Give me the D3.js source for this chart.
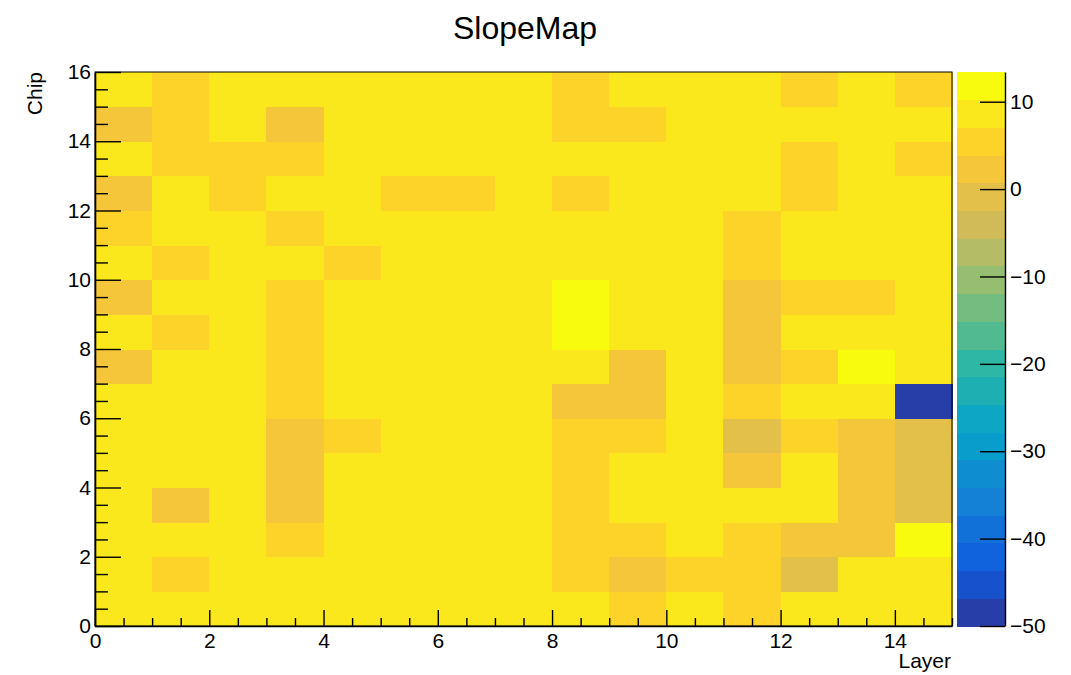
<!DOCTYPE html>
<html>
<head>
<meta charset="utf-8">
<script src="https://cdn.jsdelivr.net/npm/d3@7"></script>
<style>
  html, body { margin: 0; padding: 0; background: #fff; }
  svg { display: block; }
  text { font-family: "Liberation Sans", Arial, Helvetica, sans-serif; fill: #000; }
</style>
</head>
<body>
<svg id="chart" width="1071" height="675"></svg>
<script>
// ---- Data (rows = Chip 0..15, columns = Layer 0..14) ----
const layers = d3.range(0, 15);
const chips = d3.range(0, 16);
const slope = [
  [8.7, 8.9, 8.5, 9.1, 8.8, 8.6, 8.4, 8.9, 8.2, 5.6, 8.8, 5.9, 8.5, 8.7, 9.0],
  [8.8, 5.8, 8.6, 9.0, 8.7, 8.5, 8.9, 8.6, 5.4, 2.4, 5.7, 5.2, -0.6, 8.3, 8.4],
  [8.5, 8.7, 8.9, 6.0, 8.6, 8.8, 8.5, 8.7, 5.5, 5.3, 8.9, 5.8, 2.6, 2.1, 12.1],
  [8.9, 2.5, 8.6, 2.2, 8.8, 8.7, 8.5, 8.6, 5.6, 8.4, 8.7, 8.9, 8.6, 2.3, -0.9],
  [8.6, 8.8, 8.7, 2.4, 8.9, 8.5, 8.6, 8.8, 5.2, 8.7, 8.5, 2.7, 8.6, 2.0, -1.2],
  [8.7, 8.6, 8.9, 2.1, 5.7, 8.8, 8.6, 8.5, 5.9, 5.4, 8.6, -0.4, 5.6, 2.5, -1.0],
  [8.8, 8.5, 8.7, 5.3, 8.6, 8.9, 8.7, 8.4, 2.6, 2.2, 8.8, 5.6, 8.5, 8.7, -50.0],
  [2.3, 8.7, 8.6, 5.8, 8.8, 8.6, 8.5, 8.9, 8.7, 2.4, 8.5, 2.8, 5.5, 12.4, 8.6],
  [8.6, 5.5, 8.8, 5.4, 8.7, 8.5, 8.6, 8.8, 13.4, 8.6, 8.4, 2.6, 8.9, 8.7, 8.5],
  [2.0, 8.9, 8.6, 5.7, 8.5, 8.8, 8.7, 8.6, 12.8, 8.9, 8.7, 2.3, 5.4, 5.8, 8.6],
  [8.7, 5.6, 8.5, 8.9, 5.5, 8.6, 8.8, 8.7, 8.5, 8.6, 8.9, 5.3, 8.7, 8.6, 8.8],
  [5.4, 8.8, 8.6, 5.9, 8.7, 8.5, 8.9, 8.6, 8.8, 8.7, 8.5, 5.7, 8.6, 8.9, 8.7],
  [2.5, 8.6, 5.5, 8.8, 8.7, 5.6, 5.8, 8.5, 5.3, 8.9, 8.6, 8.7, 5.5, 8.8, 8.6],
  [8.9, 5.7, 5.4, 5.6, 8.6, 8.7, 8.5, 8.8, 8.6, 8.7, 8.9, 8.5, 5.8, 8.6, 5.5],
  [2.2, 5.6, 8.7, 2.4, 8.8, 8.6, 8.9, 8.5, 5.7, 5.4, 8.6, 8.8, 8.7, 8.5, 8.9],
  [8.6, 5.5, 8.8, 8.7, 8.9, 8.5, 8.6, 8.7, 5.8, 8.8, 8.6, 8.5, 5.6, 8.7, 5.4]
];
const xTicks = [0, 2, 4, 6, 8, 10, 12, 14];
const yTicks = [0, 2, 4, 6, 8, 10, 12, 14, 16];
const zTicks = [-50, -40, -30, -20, -10, 0, 10];
const title = "SlopeMap";
const xTitle = "Layer";
const yTitle = "Chip";

// ---- kBird palette ----
const birdStops = [0, 0.125, 0.25, 0.375, 0.5, 0.625, 0.75, 0.875, 1];
const birdR = [0.2082, 0.0592, 0.0780, 0.0232, 0.1802, 0.5301, 0.8186, 0.9956, 0.9764];
const birdG = [0.1664, 0.3599, 0.5041, 0.6419, 0.7178, 0.7492, 0.7328, 0.7862, 0.9832];
const birdB = [0.5293, 0.8684, 0.8385, 0.7914, 0.6425, 0.4662, 0.3499, 0.1968, 0.0539];
const nContours = 20;
const nColors = 255;
const rS = d3.scaleLinear().domain(birdStops).range(birdR);
const gS = d3.scaleLinear().domain(birdStops).range(birdG);
const bS = d3.scaleLinear().domain(birdStops).range(birdB);
function birdColor(idx) {
  const t = idx / (nColors - 1);
  return d3.rgb(Math.round(rS(t) * 255), Math.round(gS(t) * 255), Math.round(bS(t) * 255)).formatHex();
}
const bandColors = d3.range(nContours).map(k => birdColor(Math.min(nColors - 1, Math.floor((k + 0.99) * nColors / nContours))));

const allVals = slope.flat();
const [zMin, zMax] = d3.extent(allVals);
const bandW = (zMax - zMin) / nContours;
function colorOf(v) {
  let k = Math.floor((v - zMin) / bandW);
  k = Math.max(0, Math.min(nContours - 1, k));
  return bandColors[k];
}

// ---- Layout ----
const svg = d3.select("#chart");
const L = 95, R = 952, T = 72, B = 626;
const FS = 21;
const FONT = "'Liberation Sans', Arial, Helvetica, sans-serif";
const x = d3.scaleLinear().domain([0, 15]).range([L, R]);
const y = d3.scaleLinear().domain([0, 16]).range([B, T]);

// cells
const cells = [];
chips.forEach((c, j) => layers.forEach((l, i) => cells.push({ l, c, v: slope[j][i] })));
svg.append("g").selectAll("rect").data(cells).join("rect")
  .attr("x", d => x(d.l))
  .attr("y", d => y(d.c + 1))
  .attr("width", d => x(d.l + 1) - x(d.l) + 0.5)
  .attr("height", d => y(d.c) - y(d.c + 1) + 0.5)
  .attr("fill", d => colorOf(d.v))
  .attr("shape-rendering", "crispEdges");

// frame
svg.append("rect").attr("x", L).attr("y", T).attr("width", R - L).attr("height", B - T)
  .attr("fill", "none").attr("stroke", "#000").attr("stroke-width", 1);

// x axis
const xMinor = d3.range(0, 15.001, 0.5).filter(v => !xTicks.includes(v));
const gx = svg.append("g").attr("transform", `translate(0,${B})`);
gx.call(d3.axisBottom(x).tickValues(xTicks).tickSizeInner(-16).tickSizeOuter(0).tickPadding(7).tickFormat(d3.format("d")));
const gxm = svg.append("g").attr("transform", `translate(0,${B})`);
gxm.call(d3.axisBottom(x).tickValues(xMinor).tickSizeInner(-8).tickSizeOuter(0).tickFormat(""));
gxm.select(".domain").remove();

// y axis
const yMinor = d3.range(0, 16.001, 0.5).filter(v => !yTicks.includes(v));
const gy = svg.append("g").attr("transform", `translate(${L},0)`);
gy.call(d3.axisLeft(y).tickValues(yTicks).tickSizeInner(-26).tickSizeOuter(0).tickPadding(4).tickFormat(d3.format("d")));
const gym = svg.append("g").attr("transform", `translate(${L},0)`);
gym.call(d3.axisLeft(y).tickValues(yMinor).tickSizeInner(-13).tickSizeOuter(0).tickFormat(""));
gym.select(".domain").remove();

[gx, gy, gxm, gym].forEach(g => {
  g.selectAll("line").attr("stroke", "#000").attr("stroke-width", 1.4);
  g.selectAll(".domain").attr("stroke", "#000").attr("stroke-width", 1.6);
  g.selectAll("text").attr("font-size", FS).attr("fill", "#000").attr("font-family", FONT);
});

// palette
const PL = 957, PR = 1005;
const z = d3.scaleLinear().domain([zMin, zMax]).range([B, T]);
svg.append("g").selectAll("rect").data(d3.range(nContours)).join("rect")
  .attr("x", PL)
  .attr("y", k => z(zMin + (k + 1) * bandW))
  .attr("width", PR - PL)
  .attr("height", k => z(zMin + k * bandW) - z(zMin + (k + 1) * bandW) + 0.5)
  .attr("fill", k => bandColors[k])
  .attr("shape-rendering", "crispEdges");
const gz = svg.append("g").attr("transform", `translate(${PR},0)`);
gz.call(d3.axisRight(z).tickValues(zTicks).tickSizeInner(-25).tickSizeOuter(0).tickPadding(5).tickFormat(d3.format("d")));
gz.selectAll("line").attr("stroke", "#000").attr("stroke-width", 1.4);
gz.selectAll(".domain").attr("stroke", "#000").attr("stroke-width", 1.4);
gz.selectAll("text").attr("font-size", FS).attr("fill", "#000").attr("font-family", FONT);

// titles
svg.append("text").attr("x", 525).attr("y", 39).attr("text-anchor", "middle")
  .attr("font-size", 32).text(title);
svg.append("text").attr("x", R - 1).attr("y", 668).attr("text-anchor", "end")
  .attr("font-size", FS).text(xTitle);
svg.append("text").attr("transform", `translate(42,${T}) rotate(-90)`).attr("text-anchor", "end")
  .attr("font-size", FS).text(yTitle);
</script>
</body>
</html>
